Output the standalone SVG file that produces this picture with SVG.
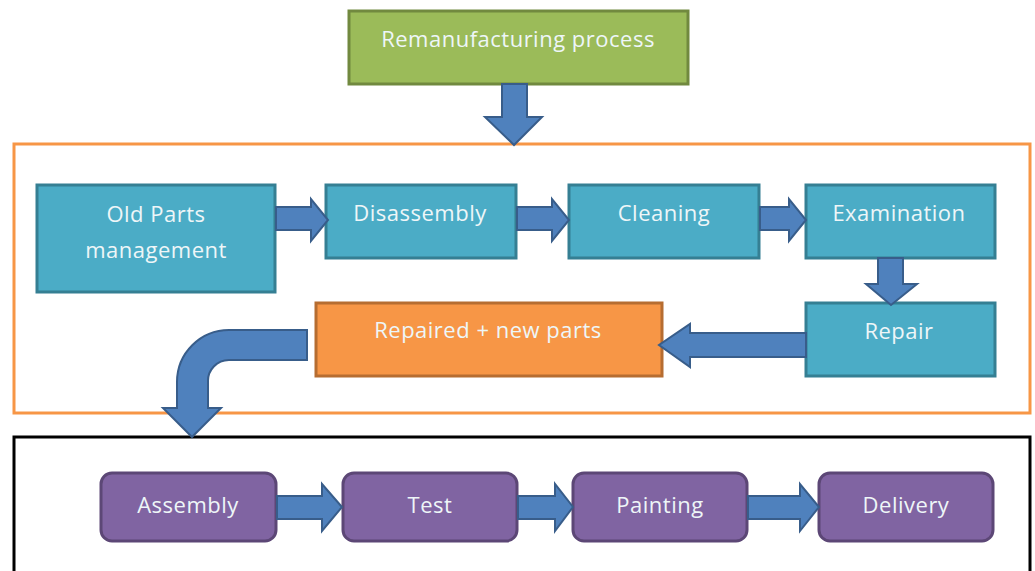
<svg xmlns="http://www.w3.org/2000/svg" width="1035" height="571" viewBox="0 0 1035 571">
<style>
.t{font-family:"Open Sans","Liberation Sans",sans-serif;font-size:22px;letter-spacing:0.5px;fill:#eef6f8;text-anchor:middle}
.blue{fill:#4bacc6;stroke:#357f93;stroke-width:3}
.pur{fill:#8064a2;stroke:#5c4776;stroke-width:3}
.arr{fill:#4f81bd;stroke:#385d8a;stroke-width:2;stroke-linejoin:miter}
</style>
<rect width="1035" height="571" fill="#fff"/>
<g id="frame-remanufacture"><rect x="14" y="144" width="1016" height="269" fill="none" stroke="#f79646" stroke-width="3"/></g>
<g id="frame-final"><rect x="14" y="437" width="1016" height="140" fill="none" stroke="#000" stroke-width="3"/></g>
<g id="remanufacturing"><rect x="349" y="11" width="339" height="73" fill="#9bbb59" stroke="#71893f" stroke-width="3"/><text class="t" x="518" y="47">Remanufacturing process</text></g>
<g id="oldparts"><rect class="blue" x="37" y="185" width="238" height="107"/><text class="t" x="156" y="222">Old Parts</text><text class="t" x="156" y="258">management</text></g>
<g id="disassembly"><rect class="blue" x="326" y="185" width="190" height="73"/><text class="t" x="420" y="221">Disassembly</text></g>
<g id="cleaning"><rect class="blue" x="569" y="185" width="190" height="73"/><text class="t" x="664" y="221">Cleaning</text></g>
<g id="examination"><rect class="blue" x="806" y="185" width="189" height="73"/><text class="t" x="899" y="221">Examination</text></g>
<g id="repair"><rect class="blue" x="806" y="303" width="189" height="73"/><text class="t" x="899" y="339">Repair</text></g>
<g id="repaired"><rect x="316" y="303" width="346" height="73" fill="#f79646" stroke="#b66d31" stroke-width="3"/><text class="t" x="488" y="338">Repaired + new parts</text></g>
<g id="assembly"><rect class="pur" x="101" y="473" width="175" height="68" rx="11"/><text class="t" x="188" y="513">Assembly</text></g>
<g id="test"><rect class="pur" x="343" y="473" width="174" height="68" rx="11"/><text class="t" x="430" y="513">Test</text></g>
<g id="painting"><rect class="pur" x="573" y="473" width="174" height="68" rx="11"/><text class="t" x="660" y="513">Painting</text></g>
<g id="delivery"><rect class="pur" x="819" y="473" width="174" height="68" rx="11"/><text class="t" x="906" y="513">Delivery</text></g>
<g id="connectors">
<path class="arr" d="M502,84 L527,84 L527,117 L542,117 L514,145 L485,117 L502,117 Z"/>
<path class="arr" d="M276,207 L311,207 L311,199 L328,220 L311,241 L311,230 L276,230 Z"/>
<path class="arr" d="M517,207 L552,207 L552,199 L569,220 L552,241 L552,230 L517,230 Z"/>
<path class="arr" d="M760,207 L789,207 L789,199 L806,220 L789,241 L789,230 L760,230 Z"/>
<path class="arr" d="M878,258 L903,258 L903,284 L917,284 L891,305 L866,284 L878,284 Z"/>
<path class="arr" d="M806,333 L690,333 L690,324 L659,345 L690,367 L690,357 L806,357 Z"/>
<path class="arr" d="M307,330 L229,330 A52,52 0 0 0 177,382 L177,408 L163,408 L192,437 L221,408 L208,408 L208,382 A21,21 0 0 1 229,360 L307,360 Z"/>
<path class="arr" d="M277,496 L322,496 L322,484 L342,507 L322,531 L322,519 L277,519 Z"/>
<path class="arr" d="M518,496 L555,496 L555,484 L573,507 L555,531 L555,519 L518,519 Z"/>
<path class="arr" d="M748,496 L800,496 L800,484 L819,507 L800,531 L800,519 L748,519 Z"/>
</g>
</svg>
